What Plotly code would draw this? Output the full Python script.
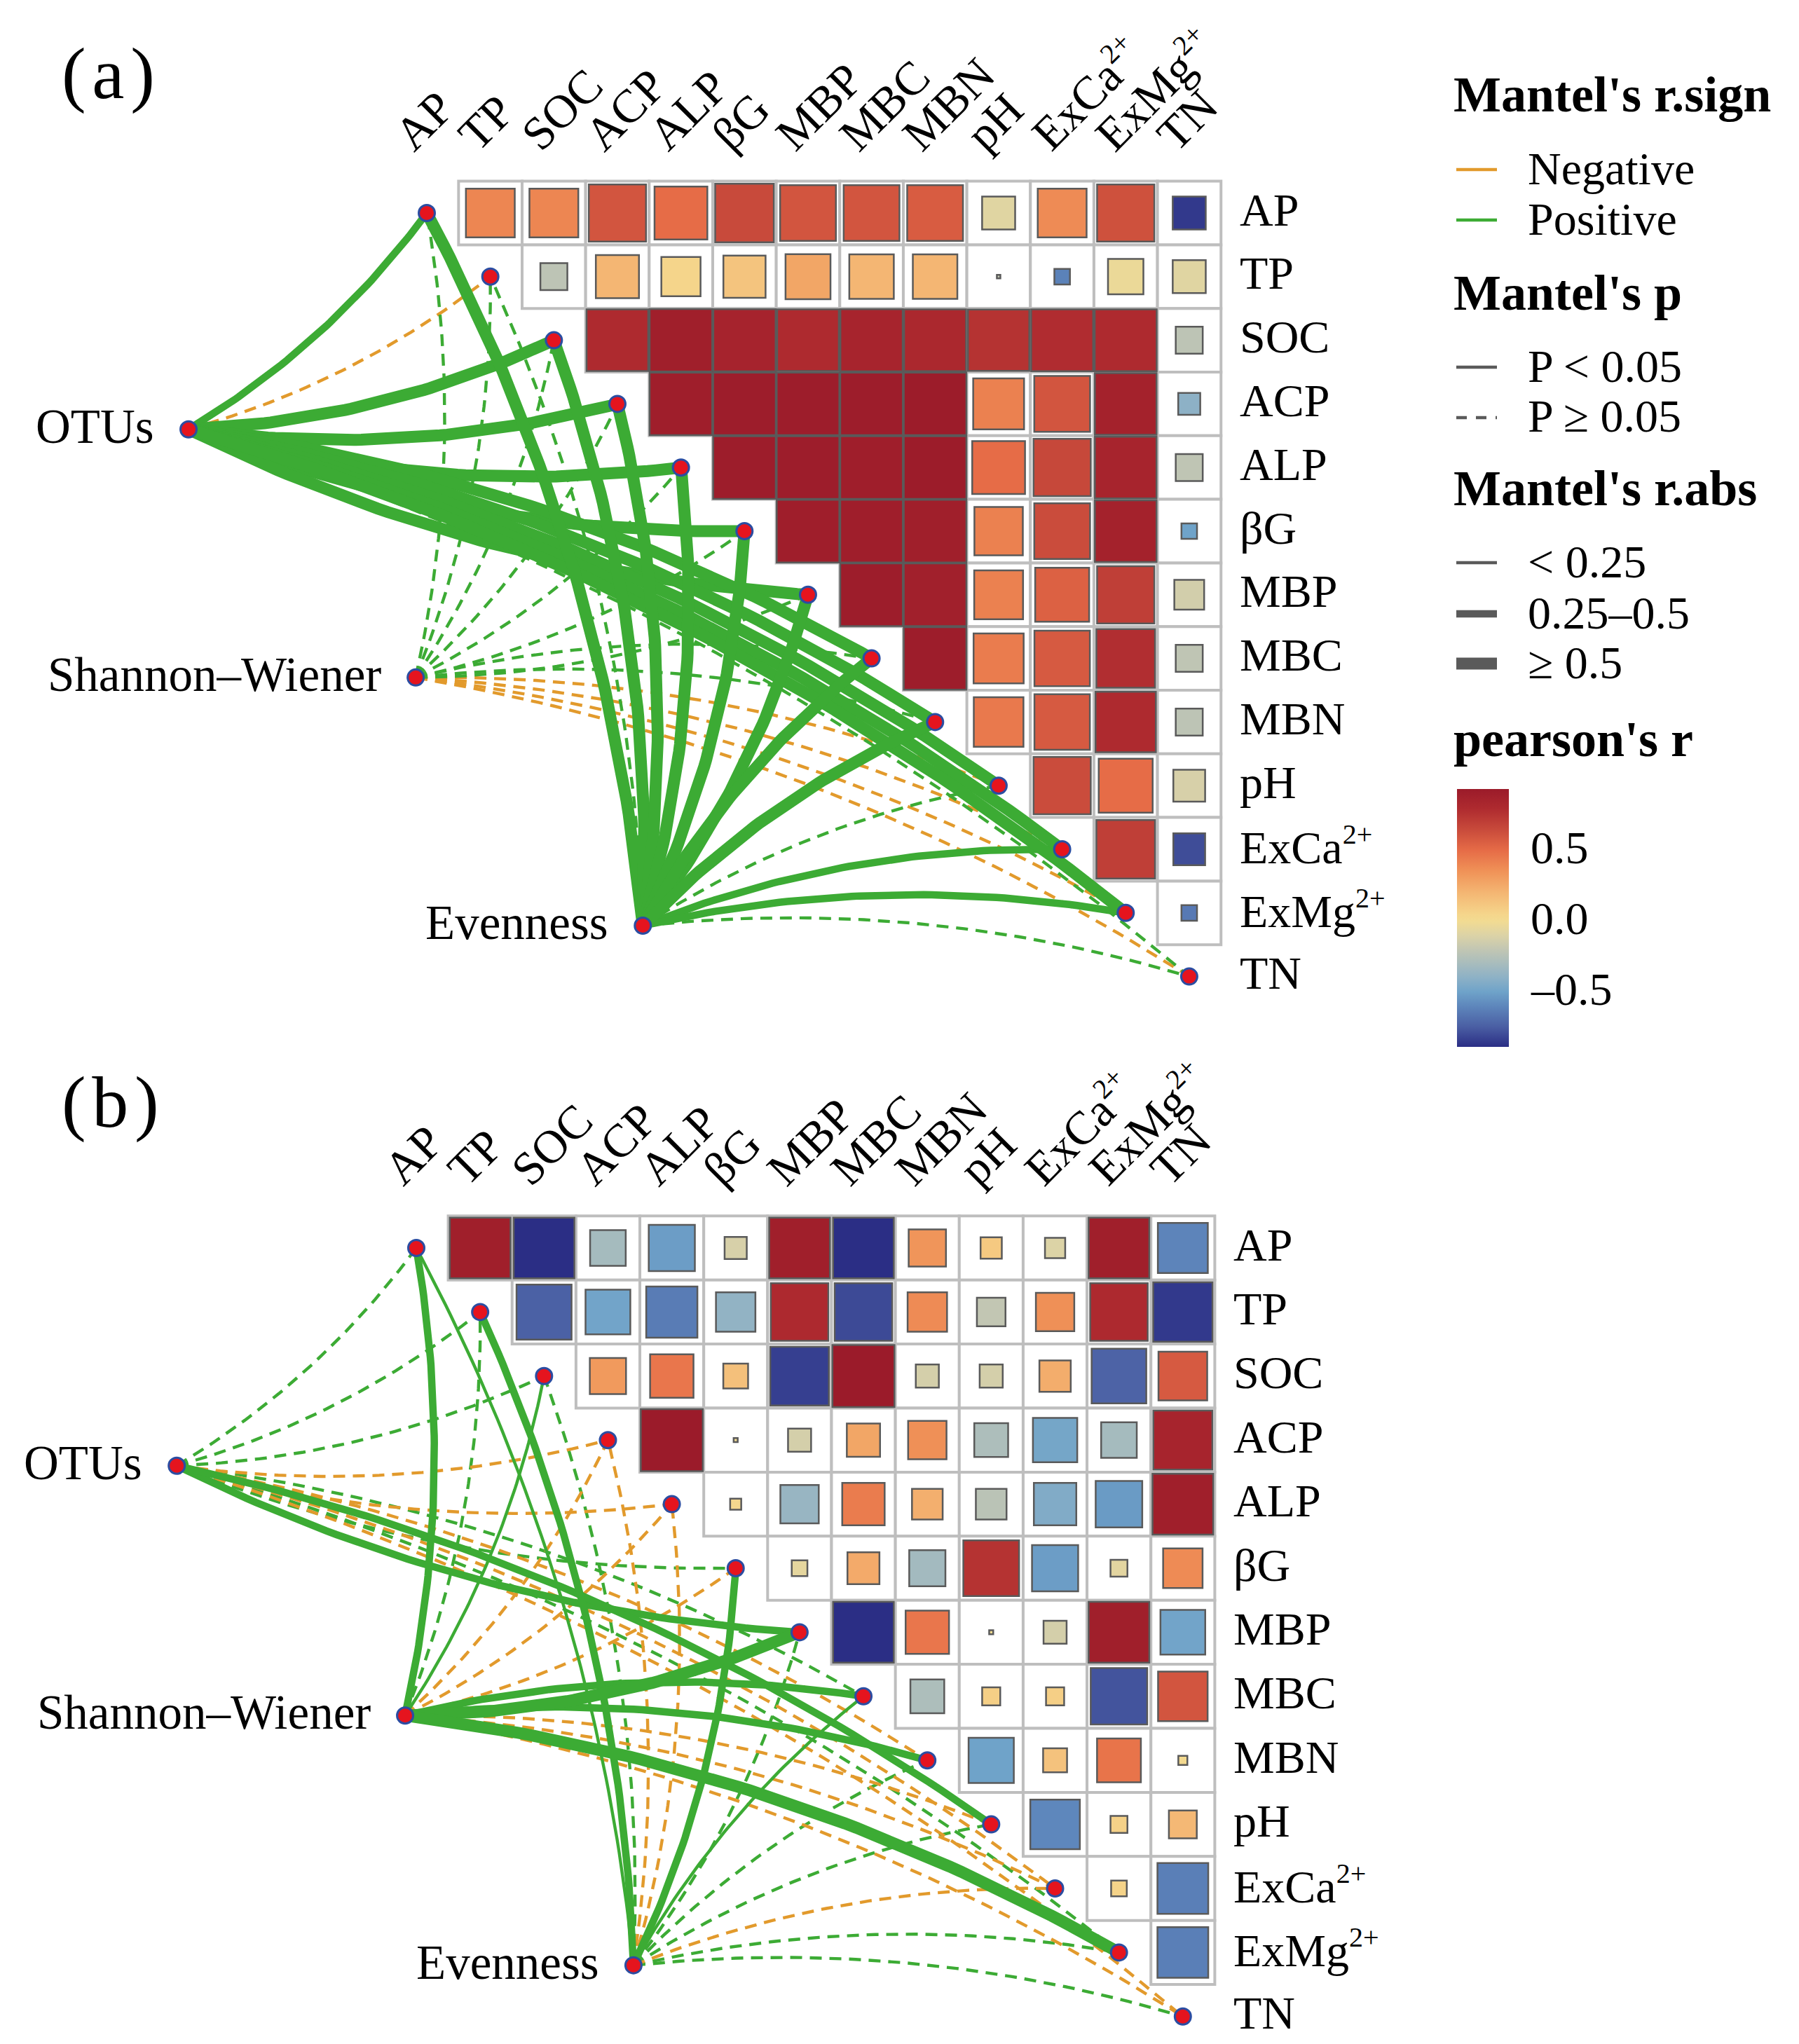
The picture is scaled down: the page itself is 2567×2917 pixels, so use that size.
import math
import plotly.graph_objects as go

# ---------------------------------------------------------------- data
SUP = "<sup><span style='font-size:40px'>2+</span></sup>"
env_labels = ["AP", "TP", "SOC", "ACP", "ALP", "βG", "MBP", "MBC", "MBN", "pH",
              "ExCa" + SUP, "ExMg" + SUP, "TN"]
bio_labels = ["OTUs", "Shannon–Wiener", "Evenness"]

# panel (a): pearson's r (colour), upper triangle; row i lists columns i+1 .. 12
pearson_a = [
    [0.40, 0.40, 0.60, 0.50, 0.65, 0.60, 0.60, 0.57, -0.08, 0.38, 0.62, -0.86],
    [-0.22, 0.20, 0.05, 0.13, 0.27, 0.20, 0.20, -0.20, -0.62, -0.03, -0.08],
    [0.80, 0.90, 0.86, 0.80, 0.85, 0.82, 0.76, 0.79, 0.80, -0.22],
    [0.91, 0.92, 0.92, 0.92, 0.93, 0.42, 0.60, 0.87, -0.40],
    [0.92, 0.92, 0.91, 0.93, 0.50, 0.66, 0.85, -0.21],
    [0.91, 0.91, 0.90, 0.42, 0.64, 0.87, -0.50],
    [0.92, 0.89, 0.42, 0.55, 0.70, -0.14],
    [0.92, 0.44, 0.58, 0.78, -0.21],
    [0.45, 0.58, 0.80, -0.22],
    [0.64, 0.50, -0.12],
    [0.70, -0.80],
    [-0.65],
]
# panel (a): magnitude shown by square area
magnitude_a = [
    [0.59, 0.59, 0.81, 0.69, 0.85, 0.77, 0.77, 0.77, 0.27, 0.59, 0.81, 0.27],
    [0.18, 0.46, 0.38, 0.44, 0.50, 0.49, 0.49, 0.003, 0.06, 0.31, 0.27],
    [0.94, 0.97, 0.96, 0.94, 0.96, 0.95, 0.93, 0.95, 0.95, 0.18],
    [0.97, 0.97, 0.97, 0.97, 0.97, 0.64, 0.77, 0.94, 0.12],
    [0.97, 0.97, 0.97, 0.97, 0.69, 0.81, 0.94, 0.18],
    [0.97, 0.97, 0.97, 0.58, 0.77, 0.94, 0.06],
    [0.97, 0.97, 0.59, 0.72, 0.81, 0.22],
    [0.97, 0.62, 0.76, 0.85, 0.18],
    [0.61, 0.76, 0.90, 0.18],
    [0.81, 0.72, 0.25],
    [0.85, 0.25],
    [0.06],
]
# panel (b): pearson's r (colour and |r| as square area)
pearson_b = [
    [0.90, -0.90, -0.31, -0.52, -0.12, 0.90, -0.90, 0.34, 0.11, -0.10, 0.90, -0.61],
    [-0.74, -0.49, -0.64, -0.38, 0.81, -0.81, 0.38, -0.20, 0.36, 0.81, -0.86],
    [0.32, 0.46, 0.15, -0.84, 0.94, -0.13, -0.13, 0.24, -0.73, 0.58],
    [0.94, -0.004, -0.13, 0.27, 0.36, -0.28, -0.48, -0.31, 0.85],
    [0.03, -0.36, 0.44, 0.23, -0.23, -0.44, -0.53, 0.90],
    [-0.06, 0.25, -0.32, 0.76, -0.52, -0.07, 0.38],
    [-0.90, 0.46, 0.004, -0.13, 0.90, -0.49],
    [-0.28, 0.08, 0.08, -0.78, 0.60],
    [-0.50, 0.14, 0.47, 0.02],
    [-0.60, 0.07, 0.19],
    [0.06, -0.63],
    [-0.63],
]

# Mantel tests: rows = OTUs, Shannon–Wiener, Evenness; columns = env_labels
mantel_r_a = [
    [0.42, -0.10, 0.58, 0.60, 0.61, 0.62, 0.63, 0.63, 0.62, 0.57, 0.60, 0.61, 0.12],
    [0.08, 0.05, 0.10, 0.09, 0.11, 0.10, 0.09, 0.08, 0.06, -0.07, -0.05, -0.08, -0.06],
    [0.55, 0.12, 0.60, 0.61, 0.62, 0.60, 0.59, 0.58, 0.56, 0.15, 0.40, 0.38, 0.10],
]
mantel_p_a = [
    [0.001, 0.32, 0.001, 0.001, 0.001, 0.001, 0.001, 0.001, 0.001, 0.001, 0.001, 0.001, 0.18],
    [0.21, 0.35, 0.18, 0.22, 0.17, 0.19, 0.24, 0.27, 0.33, 0.41, 0.46, 0.38, 0.44],
    [0.001, 0.15, 0.001, 0.001, 0.001, 0.001, 0.001, 0.001, 0.001, 0.09, 0.004, 0.006, 0.21],
]
mantel_r_b = [
    [0.12, 0.10, 0.11, -0.08, -0.09, 0.10, 0.36, 0.07, -0.06, 0.33, -0.07, 0.08, -0.05],
    [0.38, 0.12, 0.20, -0.10, -0.12, -0.09, 0.55, 0.35, 0.33, -0.10, -0.08, 0.58, -0.06],
    [0.20, 0.42, 0.10, -0.08, -0.10, 0.40, 0.09, 0.21, 0.08, 0.07, -0.07, 0.09, 0.05],
]
mantel_p_b = [
    [0.15, 0.20, 0.18, 0.40, 0.36, 0.22, 0.01, 0.30, 0.52, 0.02, 0.41, 0.29, 0.58],
    [0.01, 0.10, 0.04, 0.31, 0.27, 0.33, 0.001, 0.01, 0.01, 0.30, 0.42, 0.001, 0.49],
    [0.03, 0.01, 0.21, 0.43, 0.30, 0.01, 0.22, 0.04, 0.34, 0.31, 0.44, 0.19, 0.51],
]

cbar_tickvals = [0.5, 0.0, -0.5]
cbar_ticktext = ["0.5", "0.0", "–0.5"]

# ---------------------------------------------------------------- styles / layout
W, H = 2567, 2917
FONT = "Liberation Serif"
GREEN, ORANGE = "#3CAB34", "#E29A2C"
GRID = "#BEBEBE"
SQ_LINE = "#5A5A5A"
NODE_FILL, NODE_LINE = "#E5141E", "#2B4DA2"
LEG_GREY = "#5A5A5A"
W_THIN, W_MID, W_THICK = 4.4, 10.5, 17.0
DASH = "17px,11px"
CMIN, CMAX = -0.891, 0.936

cs_stops = [(-0.891, "#2B2E85"), (-0.75, "#4A5EA3"), (-0.60, "#5E87BC"), (-0.50, "#6FA3C9"),
            (-0.40, "#8DB1C6"), (-0.30, "#A8BCBD"), (-0.20, "#C2C6B3"), (-0.10, "#DCD3A6"),
            (0.00, "#F2DB92"), (0.05, "#F5D58B"), (0.20, "#F4B673"), (0.35, "#F09358"),
            (0.50, "#E66C47"), (0.65, "#C84A3B"), (0.80, "#AE2A2F"), (0.936, "#9B1B2A")]
colorscale = [[(v - CMIN) / (CMAX - CMIN), c] for v, c in cs_stops]

# pixel geometry of the two panels (cell centre of column 0 / row 0, cell size)
panels = [
    dict(x0=601.0, y0=296.0, cx=90.66, cy=90.8, top=0, bot=1460, xa="x", ya="y",
         pearson=pearson_a, mag=magnitude_a, mr=mantel_r_a, mp=mantel_p_a, tag="a", tag_y=97),
    dict(x0=586.0, y0=1773.0, cx=91.15, cy=91.4, top=1460, bot=H, xa="x2", ya="y2",
         pearson=pearson_b, mag=None, mr=mantel_r_b, mp=mantel_p_b, tag="b", tag_y=1565),
]
BIO_ANCHOR = (-3.75, 3.40)
BIO_STEP = (3.575, 3.90)
CURVATURE = 0.1

n_env = len(env_labels)
fig = go.Figure()
shapes, annotations = [], []


def fx(px):
    return px / W


def fy(py):
    return 1 - py / H


def link_width(r):
    a = abs(r)
    return W_THIN if a < 0.25 else (W_MID if a < 0.5 else W_THICK)


def curve(p0, p1, bend, n=60):
    x0, y0 = p0[0], -p0[1]
    x1, y1 = p1[0], -p1[1]
    dx, dy = x1 - x0, y1 - y0
    L = math.hypot(dx, dy)
    nx, ny = dy / L, -dx / L
    cx = (x0 + x1) / 2 + bend * CURVATURE * L * nx
    cy = (y0 + y1) / 2 + bend * CURVATURE * L * ny
    xs, ys = [], []
    for k in range(n + 1):
        t = k / n
        xs.append((1 - t) ** 2 * x0 + 2 * (1 - t) * t * cx + t ** 2 * x1)
        ys.append(-((1 - t) ** 2 * y0 + 2 * (1 - t) * t * cy + t ** 2 * y1))
    return xs, ys


for pi, P in enumerate(panels):
    xa, ya = P["xa"], P["ya"]
    cell_px = (P["cx"] + P["cy"]) / 2

    # grid cells
    for i, row in enumerate(P["pearson"]):
        for k in range(len(row)):
            j = i + 1 + k
            shapes.append(dict(type="rect", xref=xa, yref=ya, x0=j - 0.5, x1=j + 0.5,
                               y0=i - 0.5, y1=i + 0.5, line=dict(color=GRID, width=4),
                               fillcolor="white", layer="below"))

    # coloured squares
    sx, sy, sc, ss = [], [], [], []
    for i, row in enumerate(P["pearson"]):
        for k, r in enumerate(row):
            sx.append(i + 1 + k)
            sy.append(i)
            sc.append(r)
            m = P["mag"][i][k] if P["mag"] is not None else abs(r)
            ss.append(math.sqrt(m) * cell_px)
    marker = dict(symbol="square", size=ss, color=sc, colorscale=colorscale, cmin=CMIN, cmax=CMAX,
                  opacity=1, line=dict(color=SQ_LINE, width=2.5), showscale=(pi == 0))
    if pi == 0:
        marker["colorbar"] = dict(x=fx(2070.5), xanchor="left", xpad=0, y=fy(1302), yanchor="middle",
                                  ypad=0, len=368, lenmode="pixels", thickness=74,
                                  thicknessmode="pixels", outlinewidth=0, ticks="",
                                  showticklabels=False)
    fig.add_trace(go.Scatter(x=sx, y=sy, mode="markers", marker=marker, xaxis=xa, yaxis=ya,
                             hoverinfo="skip"))

    # Mantel links
    groups = {}
    bio_pos = [(BIO_ANCHOR[0] + BIO_STEP[0] * b, BIO_ANCHOR[1] + BIO_STEP[1] * b)
               for b in range(len(bio_labels))]
    for b, (bj, bi) in enumerate(bio_pos):
        angs = [math.atan2(-(e - bi), e - bj) for e in range(n_env)]
        med = sorted(angs)[n_env // 2]
        for e in range(n_env):
            r = P["mr"][b][e]
            p = P["mp"][b][e]
            col = GREEN if r > 0 else ORANGE
            dash = "solid" if p < 0.05 else DASH
            wdt = link_width(r)
            bend = 1 if angs[e] >= med else -1
            xs, ys = curve((bj, bi), (e, e), bend)
            key = (dash != "solid", wdt, col, dash)
            g = groups.setdefault(key, ([], []))
            g[0].extend(xs + [None])
            g[1].extend(ys + [None])
    for key in sorted(groups, key=lambda k: (not k[0], k[1])):
        _, wdt, col, dash = key
        xs, ys = groups[key]
        fig.add_trace(go.Scatter(x=xs, y=ys, mode="lines", xaxis=xa, yaxis=ya, hoverinfo="skip",
                                 line=dict(color=col, width=wdt, dash=dash)))

    # nodes
    nx_ = list(range(n_env)) + [p[0] for p in bio_pos]
    ny_ = list(range(n_env)) + [p[1] for p in bio_pos]
    fig.add_trace(go.Scatter(x=nx_, y=ny_, mode="markers", xaxis=xa, yaxis=ya, hoverinfo="skip",
                             marker=dict(size=23, color=NODE_FILL, opacity=1,
                                         line=dict(color=NODE_LINE, width=3))))

    # labels
    for e, lab in enumerate(env_labels):
        annotations.append(dict(xref=xa, yref=ya, x=n_env - 0.5 + 0.27, y=e, text=lab,
                                xanchor="left", yanchor="middle", yshift=5, showarrow=False,
                                font=dict(family=FONT, size=66, color="black")))
        annotations.append(dict(xref=xa, yref=ya, x=e - 0.70, y=-0.80, text=lab, textangle=-45,
                                xanchor="left", yanchor="bottom", showarrow=False,
                                font=dict(family=FONT, size=67, color="black")))
    for b, lab in enumerate(bio_labels):
        bj, bi = bio_pos[b]
        annotations.append(dict(xref=xa, yref=ya, x=bj - 0.52, y=bi, text=lab,
                                xanchor="right", yanchor="middle", yshift=4, showarrow=False,
                                font=dict(family=FONT, size=69, color="black")))
    annotations.append(dict(xref="paper", yref="paper", x=fx(78), y=fy(P["tag_y"]),
                            text="(\u200a" + P["tag"] + "\u200a)",
                            xanchor="left", yanchor="middle", showarrow=False,
                            font=dict(family=FONT, size=104, color="black")))

# ---------------------------------------------------------------- legend
LX_TITLE, LX_L0, LX_L1, LX_TEXT = 2064, 2070, 2128, 2170
LEG_DY = -8


def leg_title(text, py):
    annotations.append(dict(xref="paper", yref="paper", x=fx(LX_TITLE), y=fy(py + LEG_DY),
                            text="<b>" + text + "</b>", xanchor="left", yanchor="middle",
                            showarrow=False, font=dict(family=FONT, size=72, color="black")))


def leg_item(text, py, color, width, dash="solid"):
    shapes.append(dict(type="line", xref="paper", yref="paper", x0=fx(LX_L0), x1=fx(LX_L1),
                       y0=fy(py + LEG_DY), y1=fy(py + LEG_DY),
                       line=dict(color=color, width=width, dash=dash)))
    annotations.append(dict(xref="paper", yref="paper", x=fx(LX_TEXT), y=fy(py - 2 + LEG_DY),
                            text=text, xanchor="left", yanchor="middle", showarrow=False,
                            font=dict(family=FONT, size=66, color="black")))


leg_title("Mantel's r.sign", 135)
leg_item("Negative", 242, ORANGE, W_THIN)
leg_item("Positive", 314, GREEN, W_THIN)
leg_title("Mantel's p", 418)
leg_item("P &lt; 0.05", 524, LEG_GREY, W_THIN)
leg_item("P ≥ 0.05", 596, LEG_GREY, W_THIN, "15px,13px")
leg_title("Mantel's r.abs", 697)
leg_item("&lt; 0.25", 803, LEG_GREY, W_THIN)
leg_item("0.25–0.5", 876, LEG_GREY, W_MID)
leg_item("≥ 0.5", 947, LEG_GREY, W_THICK)
leg_title("pearson's r", 1055)

CB_TOP, CB_LEN, CB_X0, CB_X1 = 1302 - 184, 368, 2070.5, 2144
for v, t in zip(cbar_tickvals, cbar_ticktext):
    py = CB_TOP + (CMAX - v) / (CMAX - CMIN) * CB_LEN
    for xa0, xa1 in ((CB_X0, CB_X0 + 15), (CB_X1 - 15, CB_X1)):
        shapes.append(dict(type="line", xref="paper", yref="paper", x0=fx(xa0), x1=fx(xa1),
                           y0=fy(py), y1=fy(py), line=dict(color="white", width=3)))
    annotations.append(dict(xref="paper", yref="paper", x=fx(2174), y=fy(py - 4), text=t,
                            xanchor="left", yanchor="middle", showarrow=False,
                            font=dict(family=FONT, size=66, color="black")))

# ---------------------------------------------------------------- axes
layout_axes = {}
for pi, P in enumerate(panels):
    sfx = "" if pi == 0 else "2"
    xr = [(0 - P["x0"]) / P["cx"], (W - P["x0"]) / P["cx"]]
    yr = [(P["bot"] - P["y0"]) / P["cy"], (P["top"] - P["y0"]) / P["cy"]]
    layout_axes["xaxis" + sfx] = dict(domain=[0, 1], range=xr, visible=False,
                                      anchor="y" + sfx, fixedrange=True)
    layout_axes["yaxis" + sfx] = dict(domain=[1 - P["bot"] / H, 1 - P["top"] / H], range=yr,
                                      visible=False, anchor="x" + sfx, fixedrange=True)

fig.update_layout(width=W, height=H, margin=dict(l=0, r=0, t=0, b=0),
                  paper_bgcolor="white", plot_bgcolor="rgba(0,0,0,0)", showlegend=False,
                  shapes=shapes, annotations=annotations, **layout_axes)
fig.write_html("out.html")
